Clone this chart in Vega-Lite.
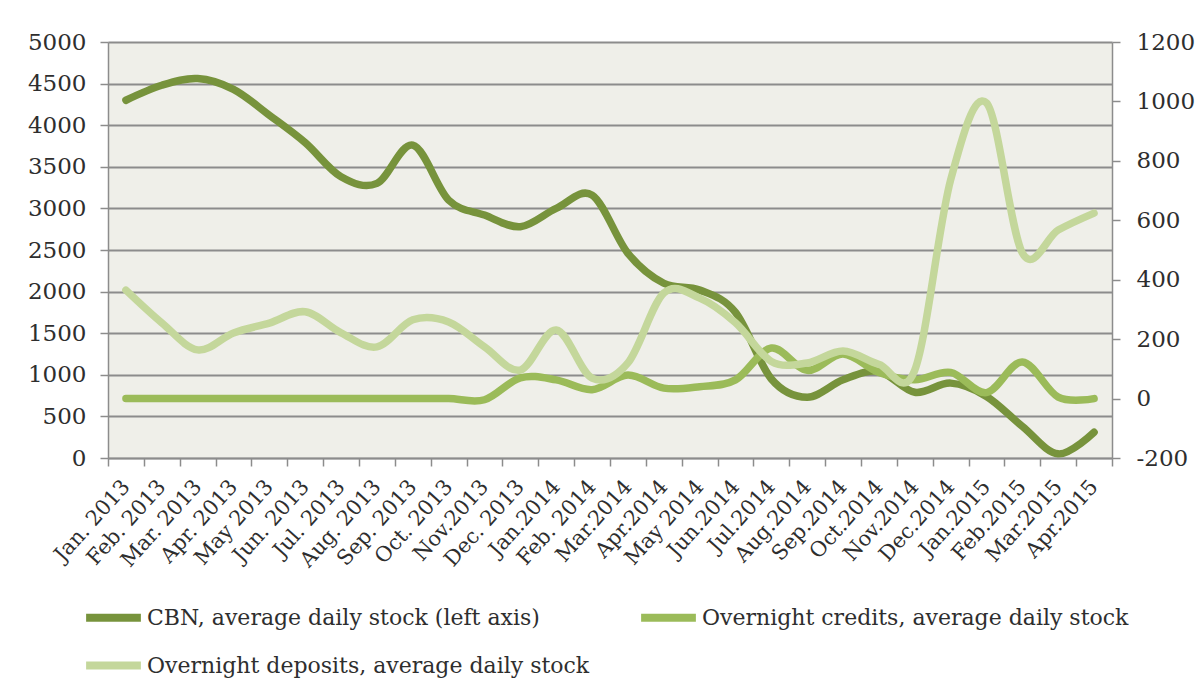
{
  "$schema": "https://vega.github.io/schema/vega-lite/v6.json",
  "autosize": {"type": "none"},
  "width": 1004,
  "height": 416,
  "padding": {"left": 108, "top": 42, "right": 88, "bottom": 241},
  "background": "white",
  "config": {
    "view": {"fill": "#EFEFE9", "stroke": null},
    "font": "DejaVu Serif",
    "axis": {
      "labelFont": "DejaVu Serif",
      "labelColor": "#2E2E2E",
      "domainColor": "#8C8C8C",
      "domainWidth": 1.5,
      "tickColor": "#8C8C8C",
      "tickWidth": 1.5,
      "tickSize": 8,
      "title": null
    },
    "legend": {"labelFont": "DejaVu Serif"}
  },
  "data": {
    "values": [
      {"month": "Jan. 2013", "series": "CBN, average daily stock (left axis)", "value": 4300},
      {"month": "Feb. 2013", "series": "CBN, average daily stock (left axis)", "value": 4480},
      {"month": "Mar. 2013", "series": "CBN, average daily stock (left axis)", "value": 4560},
      {"month": "Apr. 2013", "series": "CBN, average daily stock (left axis)", "value": 4430},
      {"month": "May 2013", "series": "CBN, average daily stock (left axis)", "value": 4120},
      {"month": "Jun. 2013", "series": "CBN, average daily stock (left axis)", "value": 3790},
      {"month": "Jul. 2013", "series": "CBN, average daily stock (left axis)", "value": 3380},
      {"month": "Aug. 2013", "series": "CBN, average daily stock (left axis)", "value": 3300},
      {"month": "Sep. 2013", "series": "CBN, average daily stock (left axis)", "value": 3760},
      {"month": "Oct. 2013", "series": "CBN, average daily stock (left axis)", "value": 3100},
      {"month": "Nov.2013", "series": "CBN, average daily stock (left axis)", "value": 2920},
      {"month": "Dec. 2013", "series": "CBN, average daily stock (left axis)", "value": 2780},
      {"month": "Jan.2014", "series": "CBN, average daily stock (left axis)", "value": 3000},
      {"month": "Feb. 2014", "series": "CBN, average daily stock (left axis)", "value": 3160},
      {"month": "Mar.2014", "series": "CBN, average daily stock (left axis)", "value": 2460},
      {"month": "Apr.2014", "series": "CBN, average daily stock (left axis)", "value": 2100},
      {"month": "May 2014", "series": "CBN, average daily stock (left axis)", "value": 2020},
      {"month": "Jun.2014", "series": "CBN, average daily stock (left axis)", "value": 1750},
      {"month": "Jul.2014", "series": "CBN, average daily stock (left axis)", "value": 950},
      {"month": "Aug.2014", "series": "CBN, average daily stock (left axis)", "value": 730},
      {"month": "Sep.2014", "series": "CBN, average daily stock (left axis)", "value": 940},
      {"month": "Oct.2014", "series": "CBN, average daily stock (left axis)", "value": 1040},
      {"month": "Nov.2014", "series": "CBN, average daily stock (left axis)", "value": 790},
      {"month": "Dec.2014", "series": "CBN, average daily stock (left axis)", "value": 900},
      {"month": "Jan.2015", "series": "CBN, average daily stock (left axis)", "value": 740},
      {"month": "Feb.2015", "series": "CBN, average daily stock (left axis)", "value": 380},
      {"month": "Mar.2015", "series": "CBN, average daily stock (left axis)", "value": 50},
      {"month": "Apr.2015", "series": "CBN, average daily stock (left axis)", "value": 310},

      {"month": "Jan. 2013", "series": "Overnight credits, average daily stock", "value": 0},
      {"month": "Feb. 2013", "series": "Overnight credits, average daily stock", "value": 0},
      {"month": "Mar. 2013", "series": "Overnight credits, average daily stock", "value": 0},
      {"month": "Apr. 2013", "series": "Overnight credits, average daily stock", "value": 0},
      {"month": "May 2013", "series": "Overnight credits, average daily stock", "value": 0},
      {"month": "Jun. 2013", "series": "Overnight credits, average daily stock", "value": 0},
      {"month": "Jul. 2013", "series": "Overnight credits, average daily stock", "value": 0},
      {"month": "Aug. 2013", "series": "Overnight credits, average daily stock", "value": 0},
      {"month": "Sep. 2013", "series": "Overnight credits, average daily stock", "value": 0},
      {"month": "Oct. 2013", "series": "Overnight credits, average daily stock", "value": 0},
      {"month": "Nov.2013", "series": "Overnight credits, average daily stock", "value": -4},
      {"month": "Dec. 2013", "series": "Overnight credits, average daily stock", "value": 70},
      {"month": "Jan.2014", "series": "Overnight credits, average daily stock", "value": 63},
      {"month": "Feb. 2014", "series": "Overnight credits, average daily stock", "value": 30},
      {"month": "Mar.2014", "series": "Overnight credits, average daily stock", "value": 79},
      {"month": "Apr.2014", "series": "Overnight credits, average daily stock", "value": 35},
      {"month": "May 2014", "series": "Overnight credits, average daily stock", "value": 40},
      {"month": "Jun.2014", "series": "Overnight credits, average daily stock", "value": 63},
      {"month": "Jul.2014", "series": "Overnight credits, average daily stock", "value": 170},
      {"month": "Aug.2014", "series": "Overnight credits, average daily stock", "value": 95},
      {"month": "Sep.2014", "series": "Overnight credits, average daily stock", "value": 150},
      {"month": "Oct.2014", "series": "Overnight credits, average daily stock", "value": 88},
      {"month": "Nov.2014", "series": "Overnight credits, average daily stock", "value": 63},
      {"month": "Dec.2014", "series": "Overnight credits, average daily stock", "value": 88},
      {"month": "Jan.2015", "series": "Overnight credits, average daily stock", "value": 20},
      {"month": "Feb.2015", "series": "Overnight credits, average daily stock", "value": 123},
      {"month": "Mar.2015", "series": "Overnight credits, average daily stock", "value": 5},
      {"month": "Apr.2015", "series": "Overnight credits, average daily stock", "value": 0},

      {"month": "Jan. 2013", "series": "Overnight deposits, average daily stock", "value": 365},
      {"month": "Feb. 2013", "series": "Overnight deposits, average daily stock", "value": 255},
      {"month": "Mar. 2013", "series": "Overnight deposits, average daily stock", "value": 164},
      {"month": "Apr. 2013", "series": "Overnight deposits, average daily stock", "value": 221},
      {"month": "May 2013", "series": "Overnight deposits, average daily stock", "value": 254},
      {"month": "Jun. 2013", "series": "Overnight deposits, average daily stock", "value": 292},
      {"month": "Jul. 2013", "series": "Overnight deposits, average daily stock", "value": 221},
      {"month": "Aug. 2013", "series": "Overnight deposits, average daily stock", "value": 174},
      {"month": "Sep. 2013", "series": "Overnight deposits, average daily stock", "value": 265},
      {"month": "Oct. 2013", "series": "Overnight deposits, average daily stock", "value": 258},
      {"month": "Nov.2013", "series": "Overnight deposits, average daily stock", "value": 174},
      {"month": "Dec. 2013", "series": "Overnight deposits, average daily stock", "value": 96},
      {"month": "Jan.2014", "series": "Overnight deposits, average daily stock", "value": 231},
      {"month": "Feb. 2014", "series": "Overnight deposits, average daily stock", "value": 69},
      {"month": "Mar.2014", "series": "Overnight deposits, average daily stock", "value": 120},
      {"month": "Apr.2014", "series": "Overnight deposits, average daily stock", "value": 355},
      {"month": "May 2014", "series": "Overnight deposits, average daily stock", "value": 338},
      {"month": "Jun.2014", "series": "Overnight deposits, average daily stock", "value": 255},
      {"month": "Jul.2014", "series": "Overnight deposits, average daily stock", "value": 125},
      {"month": "Aug.2014", "series": "Overnight deposits, average daily stock", "value": 120},
      {"month": "Sep.2014", "series": "Overnight deposits, average daily stock", "value": 160},
      {"month": "Oct.2014", "series": "Overnight deposits, average daily stock", "value": 115},
      {"month": "Nov.2014", "series": "Overnight deposits, average daily stock", "value": 96},
      {"month": "Dec.2014", "series": "Overnight deposits, average daily stock", "value": 736},
      {"month": "Jan.2015", "series": "Overnight deposits, average daily stock", "value": 995},
      {"month": "Feb.2015", "series": "Overnight deposits, average daily stock", "value": 490},
      {"month": "Mar.2015", "series": "Overnight deposits, average daily stock", "value": 567},
      {"month": "Apr.2015", "series": "Overnight deposits, average daily stock", "value": 624}
    ]
  },
  "encoding": {
    "x": {
      "field": "month",
      "type": "ordinal",
      "sort": null,
      "scale": {"type": "band", "paddingInner": 0, "paddingOuter": 0},
      "bandPosition": 0.5,
      "axis": {
        "tickBand": "extent",
        "labelAngle": -48,
        "labelAlign": "right",
        "labelBaseline": "middle",
        "labelFontSize": 21,
        "labelPadding": 17,
        "labelOverlap": false,
        "grid": false
      }
    },
    "color": {
      "field": "series",
      "type": "nominal",
      "scale": {
        "domain": ["CBN, average daily stock (left axis)", "Overnight credits, average daily stock", "Overnight deposits, average daily stock"],
        "range": ["#77933C", "#9BBB59", "#C4D79B"]
      },
      "legend": {
        "title": null,
        "orient": "none",
        "legendX": -26,
        "legendY": 544,
        "columns": 2,
        "direction": "horizontal",
        "symbolType": "stroke",
        "symbolSize": 3000,
        "symbolStrokeWidth": 8,
        "labelFontSize": 22,
        "labelColor": "#2E2E2E",
        "labelLimit": 600,
        "labelOffset": 2,
        "rowPadding": -16,
        "columnPadding": 35
      }
    }
  },
  "layer": [
    {
      "transform": [{"filter": "datum.series === 'CBN, average daily stock (left axis)'"}],
      "mark": {"type": "line", "interpolate": "cardinal", "strokeWidth": 7.5, "strokeCap": "round"},
      "encoding": {
        "y": {
          "field": "value",
          "type": "quantitative",
          "scale": {"domain": [0, 5000], "nice": false},
          "axis": {
            "orient": "left",
            "values": [0, 500, 1000, 1500, 2000, 2500, 3000, 3500, 4000, 4500, 5000],
            "labelExpr": "'' + datum.value",
            "grid": true,
            "gridColor": "#8C8C8C",
            "gridWidth": 2,
            "labelFontSize": 23,
            "labelPadding": 14
          }
        }
      }
    },
    {
      "transform": [{"filter": "datum.series !== 'CBN, average daily stock (left axis)'"}],
      "mark": {"type": "line", "interpolate": "cardinal", "strokeWidth": 7.5, "strokeCap": "round"},
      "encoding": {
        "y": {
          "field": "value",
          "type": "quantitative",
          "scale": {"domain": [-200, 1200], "nice": false},
          "axis": {
            "orient": "right",
            "values": [-200, 0, 200, 400, 600, 800, 1000, 1200],
            "labelExpr": "'' + datum.value",
            "grid": false,
            "labelFontSize": 23,
            "labelPadding": 16
          }
        }
      }
    }
  ],
  "resolve": {"scale": {"y": "independent"}}
}
